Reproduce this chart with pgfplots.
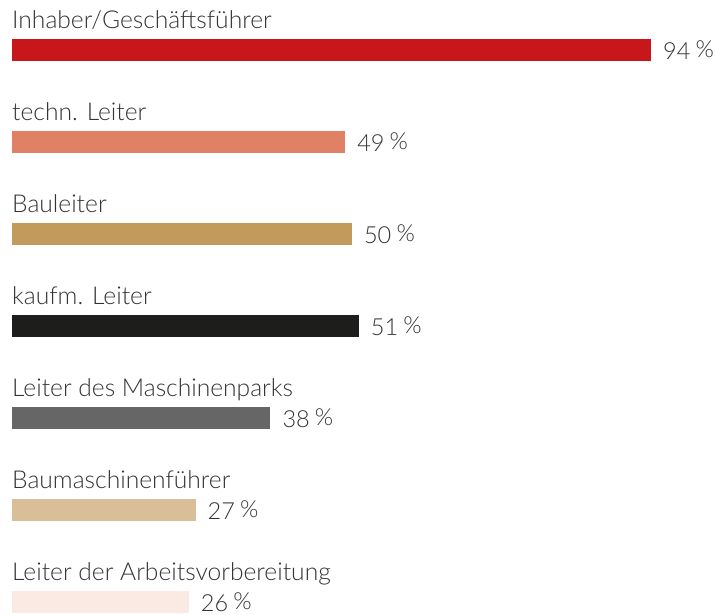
\documentclass[border=0pt]{standalone}
\usepackage{pgfplots}
\pgfplotsset{compat=1.18}
\usepackage{fontspec}
\setmainfont{Lato}[UprightFont={* Light}]
\definecolor{txt}{HTML}{333333}
\definecolor{c1}{HTML}{C8171B}
\definecolor{c2}{HTML}{E08064}
\definecolor{c3}{HTML}{C29A5B}
\definecolor{c4}{HTML}{1D1D1B}
\definecolor{c5}{HTML}{666666}
\definecolor{c6}{HTML}{D9BF98}
\definecolor{c7}{HTML}{FAEAE3}
\begin{document}
\begin{tikzpicture}[x=1pt,y=1pt]
\begin{axis}[
  at={(12pt,-34pt)}, anchor=south west,
  scale only axis, width=639pt, height=644pt,
  xmin=0, xmax=94, ymin=0.5, ymax=7.5, y dir=reverse,
  hide axis, clip=false,
  /pgf/number format/assume math mode=true,
  xbar, bar width=22pt, bar shift=0pt,
  nodes near coords={\pgfmathprintnumber{\pgfplotspointmeta}\hspace{0.22em}\raisebox{2pt}{\%}},
  point meta=x,
  every node near coord/.append style={anchor=west, inner sep=0pt, xshift=12pt, font=\fontsize{23.5}{28}\selectfont, text=txt},
]
\addplot[draw=none, fill=c1] coordinates {(94,1)};
\addplot[draw=none, fill=c2] coordinates {(49,2)};
\addplot[draw=none, fill=c3] coordinates {(50,3)};
\addplot[draw=none, fill=c4] coordinates {(51,4)};
\addplot[draw=none, fill=c5] coordinates {(38,5)};
\addplot[draw=none, fill=c6] coordinates {(27,6)};
\addplot[draw=none, fill=c7] coordinates {(26,7)};
\foreach \lab [count=\i] in {Inhaber/Geschäftsführer, techn. Leiter, Bauleiter, kaufm. Leiter, Leiter des Maschinenparks, Baumaschinenführer, Leiter der Arbeitsvorbereitung}{
  \edef\tmp{\noexpand\node[anchor=base west, inner sep=0pt, yshift=22pt, font=\noexpand\fontsize{24.6}{28}\noexpand\selectfont, text=txt] at (axis cs:0,\i) {\lab};}
  \tmp
}
\end{axis}
\pgfresetboundingbox
\path (0,0) rectangle (715,614);
\end{tikzpicture}
\end{document}
